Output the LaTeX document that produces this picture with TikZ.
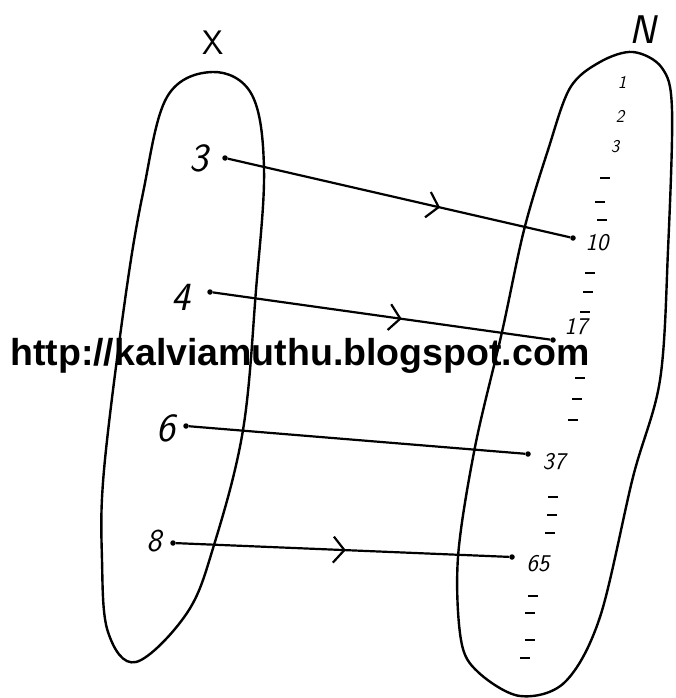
\documentclass[tikz,border=0pt]{standalone}
\usepackage{fontspec}
\newfontfamily\wmfont{Liberation Sans}
\usetikzlibrary{arrows.meta,decorations.markings}
\tikzset{
  pt/.style={circle,fill=black,inner sep=0pt,minimum size=5.5pt},
  big/.style={font=\sffamily\itshape\fontsize{40}{40}\selectfont,inner sep=0pt},
  small/.style={font=\sffamily\itshape\fontsize{24}{24}\selectfont,inner sep=0pt},
  tiny/.style={font=\sffamily\itshape\fontsize{18}{18}\selectfont,inner sep=0pt},
  setline/.style={line width=2.4pt,line join=round},
  mapline/.style={line width=2.2pt},
  midarrow/.style={postaction={decorate},decoration={markings,
    mark=at position #1 with {\arrow{Straight Barb[length=11pt,width=26pt,line width=2.2pt]}}}},
  tickmark/.style={line width=2.2pt}
}
\begin{document}
\begin{tikzpicture}[x=1pt,y=-1pt]
\useasboundingbox (0,0) rectangle (676,698);
% set X
\draw[setline] plot[smooth cycle,tension=0.6] coordinates {
 (213,72) (252,95) (264,170) (256,290) (243,430) (214,545) (187,613) (136,662)
 (108,632) (102,560) (104,470) (125,300) (143,193) (167,97)};
% set N
\draw[setline] plot[smooth cycle,tension=0.55] coordinates {
 (633,52) (662,68) (672,110) (668,250) (660,380) (633,477) (600,617) (565,682) (520,696)
 (478,672) (461,640) (458,557) (475,447) (502,332) (524,230) (548,150) (570,88) (600,62)};
\node[font=\sffamily\fontsize{34}{34}\selectfont,inner sep=0pt] (lX) at (213,43) {X};
\node[font=\sffamily\itshape\fontsize{40}{40}\selectfont,inner sep=0pt] (lN) at (643,30) {N};
% domain labels
\node[big] (t3) at (199,158) {3};
\node[big] (t4) at (181,297) {4};
\node[big] (t6) at (166,428) {6};
\node[big,font=\sffamily\itshape\fontsize{32}{32}\selectfont] (t8) at (154,541) {8};
\node[pt] (d3) at (225,158) {};
\node[pt] (d4) at (210,292) {};
\node[pt] (d6) at (186,426) {};
\node[pt] (d8) at (173,543) {};
% codomain labels
\node[tiny] (n1) at (622,82) {1};
\node[tiny] (n2) at (620,116) {2};
\node[tiny] (n3) at (615,147) {3};
\node[small] (t10) at (597,243) {10};
\node[small] (t17) at (576,327) {17};
\node[small] (t37) at (554,462) {37};
\node[small] (t65) at (538,564) {65};
\node[pt] (d10) at (573,238) {};
\node[pt] (d17) at (553,340) {};
\node[pt] (d37) at (528,454) {};
\node[pt] (d65) at (512,557) {};
% mappings
\draw[mapline,midarrow=0.62] (d3) -- (d10);
\draw[mapline,midarrow=0.56] (d4) -- (d17);
\draw[mapline] (d6) -- (d37);
\draw[mapline,midarrow=0.51] (d8) -- (d65);
% ticks
\foreach \x/\y in {605/178,600/202,602/220,590/273,588/292,585/312,580/378,577/399,573/420,
  553/497,552/515,550/533,533/596,530/613,530/640,525/658}
  \draw[tickmark] (\x-5,\y) -- (\x+5,\y);
% watermark
\node[font=\wmfont\bfseries\fontsize{37.5}{37.5}\selectfont,inner sep=0pt,anchor=base west] (wm) at (10,365) {http://kalviamuthu.blogspot.com};
\end{tikzpicture}
\end{document}
